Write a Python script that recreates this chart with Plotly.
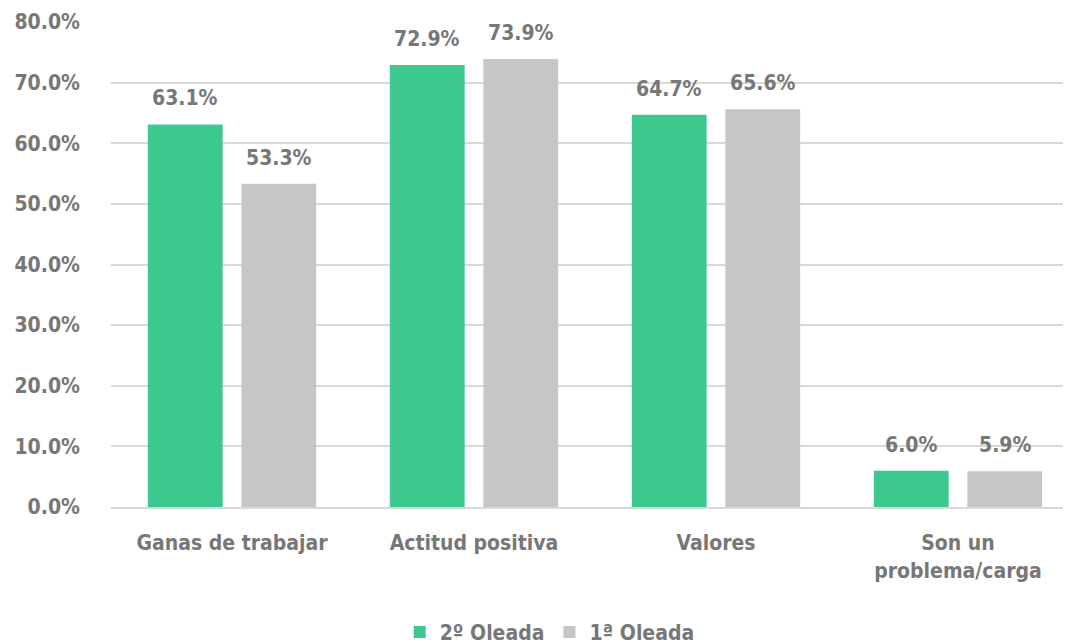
import plotly.graph_objects as go

categories = ["Ganas de trabajar", "Actitud positiva", "Valores", "Son un<br>problema/carga"]
oleada2 = [63.1, 72.9, 64.7, 6.0]
oleada1 = [53.3, 73.9, 65.6, 5.9]
series_names = ["2º Oleada", "1ª Oleada"]
colors = ["#3CC88F", "#C6C6C6"]
tick_vals = [0, 10, 20, 30, 40, 50, 60, 70, 80]
tick_text = [f"{v:.1f}%" for v in tick_vals]

FONT = "Liberation Sans Narrow, DejaVu Sans Condensed, Arial Narrow, sans-serif"
TXT = "#777777"

fig = go.Figure()
for name, vals, col in zip(series_names, [oleada2, oleada1], colors):
    fig.add_trace(go.Bar(x=categories, y=vals, name=name, marker=dict(color=col, line=dict(width=0))))

for vals, shift in zip([oleada2, oleada1], [-47, 47]):
    for c, v in zip(categories, vals):
        fig.add_annotation(x=c, y=v, xref="x", yref="y", text=f"<b>{v:.1f}%</b>", showarrow=False,
                           xshift=shift, yshift=26, font=dict(family=FONT, size=21, color=TXT))

fig.update_layout(
    width=1071, height=644,
    margin=dict(l=103, r=8, t=14, b=145, autoexpand=False),
    plot_bgcolor="white", paper_bgcolor="white",
    barmode="group", bargap=0.227, bargroupgap=0.2,
    font=dict(family=FONT, size=21, color=TXT, weight="bold"),
    xaxis=dict(range=[-0.5, 3.467], showline=True, linecolor="#D9D9D9", linewidth=2,
               tickfont=dict(family=FONT, size=21, color=TXT, weight="bold"), ticks="",
               automargin=False, ticklabelstandoff=16),
    yaxis=dict(range=[0, 80], tickvals=tick_vals, ticktext=tick_text, showgrid=True,
               gridcolor="#D9D9D9", gridwidth=1.5, zeroline=False, ticklabelstandoff=30,
               automargin=False,
               tickfont=dict(family=FONT, size=21, color=TXT, weight="bold")),
    legend=dict(orientation="h", x=0.457, xanchor="center", y=-0.216, yanchor="top",
                font=dict(family=FONT, size=21, color=TXT, weight="bold"), itemclick=False),
)

fig.write_html("out.html")
